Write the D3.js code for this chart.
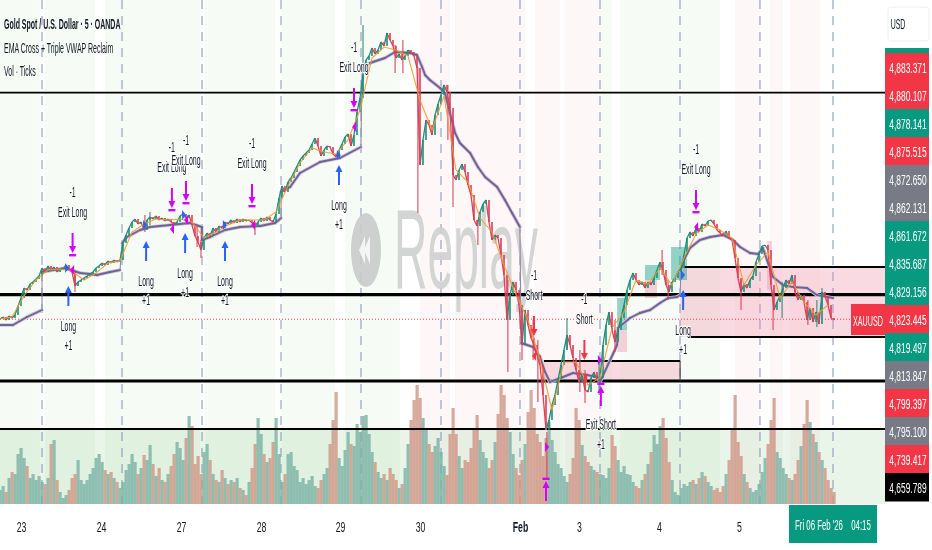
<!DOCTYPE html>
<html><head>
<meta charset="utf-8">
<title>XAUUSD replay</title>
<script src="https://d3js.org/d3.v7.min.js"></script>
<style>
  html, body { margin: 0; padding: 0; background: #fff; overflow: hidden; }
  svg { display: block; filter: blur(0.5px); }
  text { font-family: "Liberation Sans", Arial, sans-serif; }
</style>
</head>
<body>
<svg id="chart" width="932" height="550"></svg>
<script>

const closes = [
  4823.5,4824,4823.25,4824.25,4823.75,4824.5,
  4826.75,4828.75,4831.25,4830.75,4832.25,4832.75,4833.5,4834.25,
  4836.25,4835.25,4836.75,4835.75,4836.5,4835.25,4836,4836,4837,4835.75,4835.25,
  4831.75,4832.75,4833.25,4833.75,4834.25,4834.75,4835.25,4836.25,4836.75,
  4837.5,4837,4838,4837.5,4838.25,4837.75,4838.25,
  4842.5,4844.5,4846.25,4847.75,4848.5,4847.25,4847.75,
  4845.75,4848.25,4849,4848.5,4849.25,4848.25,4848.75,4848,
  4848.5,4847.75,4847.25,4847.75,4849.25,4849.75,4848.75,4849.5,
  4847,4844.25,4842.75,4840.75,4843.75,
  4845,4844.25,4846.25,4845.25,4846.75,4846.25,4847.75,4847.25,
  4848.25,4847.5,4848.5,4847.75,4848.5,4848,4848.25,4847.5,
  4846.75,4847.75,4848.75,4848,4849,4848.25,4847.75,4849.75,
  4853.75,4856.75,4855.25,4857.75,4858.75,4860.25,4861.75,4863.25,4864.25,4865,
  4865.75,4867.25,4868.75,4866.75,4864.25,4865.75,4866.75,4866.5,4864.75,4864,4865.75,4867.25,4869,4869.75,4866.75,4869.5,4875.25,4878.75,
  4884.5,4888.25,4889.25,4891.25,4889.75,4890.75,4892.75,4891.75,4895,4893.25,4891.75,4888.75,4889.75,4888.25,4889.25,4890.75,4890.25,4889.25,4886.25,
  4862,4868.25,4873.25,4872,4869.5,4874.5,4877.25,4879.5,4882,4880.25,4876.25,
  4859.5,4858.25,4860.75,4862.25,4860.25,4857,4854.5,4848.25,4846.75,4850.25,4852.25,4853.25,4847.75,4843.25,4844.5,4843.75,4839.5,
  4834.5,4823.25,4829.5,4832.75,4830.75,4827,4817,4825.75,4822,4818.75,4817,4814.5,4812,
  4804.5,4795.75,4798.25,4802,4804.5,4808.25,4812,4815.75,4819.5,4817,4813.75,4810.75,4807.75,4809.5,4805.75,4805.25,4808.75,4810.25,4808.25,4808.75,
  4817,4822,4825.25,4820.75,4817.75,4820.75,4823.75,4827,4830.75,4833.25,4835,4833.25,4832,4832.75,4831.25,4832.75,4832,4833.75,4835.75,4837.75,
  4835.75,4832,4830.25,4832.75,4833.75,4835.25,4836.25,4839.5,4843.75,4845.25,4844.25,4846.25,4845.25,4847.25,4846.75,4848,4848.25,4847.25,4845.75,4845,
  4844.25,4845.5,4843.75,4843.25,4838.75,4833.75,4830.25,4832.25,4831.25,4833.25,4834.25,4837.75,4839.75,4841.75,4842,4840.75,4832,4825.75,4827.75,4829.25,
  4831.25,4833.25,4832.25,4834.5,4830.25,4828.25,4829.5,4827.75,4823.25,4826.25,4822.75,4825.25,4822.25,4830.25,4829.25,4827,4823.75,4823.25
];

// long wicks that stick out of the close line
const wickSlots = [25,48.3,50,65.7,67,85,121,131.7,134.3,139.3,149.3,151,159.3,169.3,174,177.7,179.3,182.3,189,193.3,195,199.7,205,220.7,222.7,247,257.7,260.7,269.3,272.3,274];
const wickHighs = [4834.5,4849.5,4850.25,4847,4843.25,4847.75,4897,4892,4893.25,4886.5,4882,4873.25,4848.25,4833.25,4826.75,4823.25,4818.25,4795.25,4823.75,4815.75,4810.75,4813.25,4823.25,4840.75,4833.25,4833.25,4830.75,4832.75,4828.25,4828.25,4831.25];
const wickLows = [4830.25,4845.25,4847,4841.5,4838.75,4844.5,4880.75,4885,4885,4850,4868.25,4851.5,4842,4810.25,4813.25,4813.25,4802.75,4783.75,4815.75,4805.25,4802.5,4804.5,4815.25,4834.5,4828.25,4825.75,4820.75,4823.75,4822,4821.5,4825.75];

// orange fast EMA, one value every 4 slots
const emaFast = [4823.5,4824,4829.25,4833.25,4835.75,4836,4835.5,4833.25,4835,4837.5,4838,4845.25,4847.25,4848.5,4848.25,4848.5,4847.75,4843.75,4845.25,4847,4848.25,4848.25,4848.25,4850.25,4856.75,4862.5,4866.25,4865.25,4864.75,4868.25,4875.75,4888.75,4891.5,4890.75,4889.25,4878.25,4870.75,4879.25,4860.75,4857.75,4848.75,4845.25,4837,4829.5,4823.25,4813.25,4800.75,4812.75,4812.75,4807,4808.75,4821.25,4825.25,4833.25,4832.25,4836.25,4832,4838.75,4844.75,4847,4845.75,4843.75,4832,4837,4840.25,4828.75,4832.75,4827.75,4824.5,4827];

// session anchored VWAP, resets make it jump
const vwapSlots = [0,4.3,9,14,14,21.7,26.7,30,32.3,36.7,40,40.7,42.3,46.7,50,56.7,63.3,67.3,67.3,70,75,80,86.7,91.7,93.7,93.7,96.7,100,106.7,113.3,120.3,120.7,123.3,128.3,131.7,136.7,139,140.7,141.7,143.3,146.7,148.3,150,151.7,153.3,156.7,159.3,161.7,165.7,168.3,170.7,173.3,173.7,177.7,180,181.7,183.3,187.7,191,195.7,199,200,205.7,206,210,213.3,216.7,220,222.7,225.7,226.7,227,228.3,230,233.3,236.7,241,244.3,246.7,250,252.7,254.3,256,257.7,261,264.3,269,272.3,277.7];
const vwapPrices = [4822,4822,4824,4825.75,4835.25,4836.25,4835,4834.75,4834.5,4835.25,4835.75,4842.5,4844,4845.75,4846.5,4847,4847.5,4846.5,4843.25,4844,4845.75,4846.5,4846.75,4847.5,4848.75,4855.25,4856.5,4860,4862.75,4863.75,4866.5,4886.5,4887.5,4888.75,4890.25,4890,4889.5,4886.5,4884.5,4883.25,4881.25,4880,4875,4870,4867.5,4865,4861.5,4859,4856.5,4853.25,4850,4846.5,4817.5,4816.5,4814,4810.25,4807.75,4809,4810,4809.5,4809,4807.75,4817,4821.25,4823.75,4825,4825.75,4827.5,4828.75,4829,4829.5,4835.75,4838.75,4841.25,4843.25,4844,4844.5,4843.25,4841.5,4840,4839.75,4841.25,4837.5,4834,4832,4831.5,4831.25,4829.5,4828.75];

const volumes = [
  14,18,12,26,32,30,50,56,46,38, 26,30,24,28,22,20,26,60,64,24, 12,6,9,14,26,30,44,24,20,24,
  30,36,46,50,42,34,30,32,26,22, 16,22,34,40,50,42,30,36,49,44, 59,40,28,36,24,22,30,38,50,62,
  56,44,66,88,78,40,48,30,52,60, 44,30,24,22,34,26,20,24,22,26, 16,14,9,22,36,60,86,70,50,42,
  46,62,86,50,22,30,50,52,38,34, 22,26,20,24,28,18,16,24,30,36, 60,84,112,46,38,54,72,60,58,80,
  72,88,89,70,52,42,32,26,30,24, 36,30,24,16,20,36,60,84,104,119, 106,86,74,60,52,58,66,52,38,29,
  70,96,70,48,36,44,42,56,74,89, 64,52,46,36,44,62,90,119,109,86, 72,50,36,29,44,60,92,114,96,70,
  62,48,66,82,64,52,40,36,28,22, 30,46,96,84,59,48,42,38,34,32, 30,29,26,36,69,58,44,32,38,30,
  29,22,18,16,24,30,40,52,69,60, 78,86,66,42,24,12,9,16,20,18, 22,24,20,26,32,28,22,18,14,16,
  12,18,30,44,76,109,62,48,30,22, 16,12,14,20,32,46,60,84,106,52, 46,36,30,26,24,30,44,58,80,104,
  82,70,62,52,44,36,24,16,12
];

// x axis
const dayTickSlots = [7,33.67,60.33,87,113.33,140,173.33,193,219.67,246.33];
const dayTickLabels = ["23","24","27","28","29","30","Feb","3","4","5"];
const sessionSlots = [14,40.67,67.33,93.67,120.33,147,173.33,200,226.67,253.33,277.67];

// price column on the right
const priceLabels = ["4,883.371","4,880.107","4,878.141","4,875.515","4,872.650","4,862.131","4,861.672","4,835.687","4,829.156","4,823.445","4,819.497","4,813.847","4,799.397","4,795.100","4,739.417","4,659.789"];
const priceKinds = ["down","down","up","down","flat","flat","up","up","up","down","up","flat","down","flat","down","close"];

// horizontal levels and the last price
const thinLevels = [4880.107, 4796];
const thickLevels = [4829.6, 4808];
const lastPrice = 4823.445;

// shaded sessions in the background
const greenBandStarts = [0,15,35,68.3,94,115,200,206.7];
const greenBandEnds = [13.3,31.7,66.7,91.7,111.7,133.3,204,240];
const pinkBandStarts = [140,151.7,178.3,188.3,245,256.7,263.3];
const pinkBandEnds = [150,175,186.7,200,253.3,261,273.3];

// rectangles drawn on the chart
const boxStarts = [181.3,226.7];
const boxEnds = [226.7,295];
const boxTops = [4813,4836.5];
const boxBottoms = [4808,4819];
const tealStarts = [205.7,215,223.7];
const tealEnds = [209,220,229];
const tealTops = [4828.75,4837,4841.5];
const tealBottoms = [4820.75,4833.25,4833.25];
const redBoxStarts = [205.7,215,255.7];
const redBoxEnds = [209,219,257.3];
const redBoxTops = [4820.75,4833.25,4843];
const redBoxBottoms = [4815.25,4828.75,4830.75];

// strategy signals
const longSlots = [22.8,48.7,61.7,75,113,227.7];
const longPrices = [4826.75,4838,4840,4838,4857,4825.75];
const exitLongSlots = [24.2,57.3,62,84,118,232];
const exitLongPrices = [4845,4856.25,4858,4857.25,4881.25,4855.75];
const shortSlots = [178,194.8];
const shortPrices = [4824.25,4818.25];
const exitShortSlots = [182,200.3];
const exitShortPrices = [4778,4801.75];

// small triangles on the bars
const blueTriSlots = [21.7,47.7,60.7,74.3,112.3,227];
const blueTriPrices = [4836.25,4847,4849.5,4847,4864.5,4834.5];
const magentaLeftSlots = [24.7,58,62.7,85,118.7,232.7];
const magentaLeftPrices = [4835.75,4846,4848.25,4847,4871.5,4846.5];
const redLeftSlots = [178.7,195.7];
const redLeftPrices = [4814.25,4808.75];
const magentaRightSlots = [181.7,199.3];
const magentaRightPrices = [4791.5,4813.25];

const titleLines = ["Gold Spot / U.S. Dollar · 5 · OANDA","EMA Cross + Triple VWAP Reclaim","Vol · Ticks"];

// ---- 1. housekeeping ----
const svg = d3.select("svg#chart");
const plotRight = 885;
const plotBottom = 504;
const teal = "#089981", red = "#f23645", blue = "#2962ff", magenta = "#d500f9", ink = "#131722";

let x = d3.scaleLinear().domain([0, 295]).range([0, plotRight]);
let y = d3.scaleLinear().domain([4775, 4903]).range([513, 1]);
let yVol = d3.scaleLinear().domain([0, 130]).range([plotBottom, plotBottom - 130]);

// the picture is squeezed sideways, so every text gets a horizontal scale
function addText(g, str, px, py, size, opts) {
  opts = opts || {};
  let t = g.append("text")
    .attr("transform", "translate(" + px + "," + py + ") scale(" + (opts.sx || 0.5) + ",1)")
    .attr("text-anchor", opts.anchor || "middle")
    .attr("dominant-baseline", "central")
    .attr("font-size", size)
    .attr("font-weight", opts.weight || 400)
    .attr("fill", opts.fill || ink)
    .text(str);
  if (opts.halo) {
    t.attr("stroke", "#fff").attr("stroke-width", 2.5).attr("paint-order", "stroke");
  }
  return t;
}

// ---- 2. background ----
const bandLayer = svg.append("g");
bandLayer.selectAll(".green").data(d3.range(greenBandStarts.length)).join("rect")
  .attr("x", i => x(greenBandStarts[i])).attr("width", i => x(greenBandEnds[i]) - x(greenBandStarts[i]))
  .attr("y", 0).attr("height", plotBottom).attr("fill", "#4caf50").attr("opacity", 0.05);
bandLayer.selectAll(".pink").data(d3.range(pinkBandStarts.length)).join("rect")
  .attr("x", i => x(pinkBandStarts[i])).attr("width", i => x(pinkBandEnds[i]) - x(pinkBandStarts[i]))
  .attr("y", 0).attr("height", plotBottom).attr("fill", red).attr("opacity", 0.04);

// tint under the lowest level
bandLayer.append("rect").attr("x", 0).attr("width", plotRight)
  .attr("y", y(thinLevels[1])).attr("height", plotBottom - y(thinLevels[1]))
  .attr("fill", "#4caf50").attr("opacity", 0.13);

// session separators
svg.append("g").selectAll("line").data(sessionSlots).join("line")
  .attr("x1", d => x(d)).attr("x2", d => x(d)).attr("y1", 0).attr("y2", plotBottom)
  .attr("stroke", "#7f93b8").attr("stroke-width", 1).attr("stroke-dasharray", "9,7");

// ---- 3. replay watermark ----
const wm = svg.append("g").attr("opacity", 0.9);
wm.append("ellipse").attr("cx", 366).attr("cy", 250).attr("rx", 15).attr("ry", 37).attr("fill", "#c9cbcb");
wm.append("path").attr("d", "M359,250 L365,236 L365,264 Z M364,250 L370,236 L370,264 Z").attr("fill", "#f4f6f4");
wm.append("text").attr("x", 394).attr("y", 288).attr("font-size", 114)
  .attr("textLength", 144).attr("lengthAdjust", "spacingAndGlyphs")
  .attr("fill", "#cfd1d1").text("Replay");

// ---- 4. boxes ----
const boxLayer = svg.append("g");
boxLayer.selectAll(".box").data(d3.range(boxStarts.length)).join("rect")
  .attr("x", i => x(boxStarts[i])).attr("width", i => x(boxEnds[i]) - x(boxStarts[i]))
  .attr("y", i => y(boxTops[i])).attr("height", i => y(boxBottoms[i]) - y(boxTops[i]))
  .attr("fill", "#ec8fa6").attr("opacity", 0.33);
boxLayer.selectAll(".teal").data(d3.range(tealStarts.length)).join("rect")
  .attr("x", i => x(tealStarts[i])).attr("width", i => x(tealEnds[i]) - x(tealStarts[i]))
  .attr("y", i => y(tealTops[i])).attr("height", i => y(tealBottoms[i]) - y(tealTops[i]))
  .attr("fill", teal).attr("opacity", 0.42);
boxLayer.selectAll(".redbox").data(d3.range(redBoxStarts.length)).join("rect")
  .attr("x", i => x(redBoxStarts[i])).attr("width", i => x(redBoxEnds[i]) - x(redBoxStarts[i]))
  .attr("y", i => y(redBoxTops[i])).attr("height", i => y(redBoxBottoms[i]) - y(redBoxTops[i]))
  .attr("fill", "#ec8fa6").attr("opacity", 0.4);

// ---- 5. volume ----
svg.append("g").selectAll("rect").data(volumes).join("rect")
  .attr("x", (d, i) => x(i) - 1.5).attr("width", 3.2)
  .attr("y", d => yVol(d)).attr("height", d => yVol(0) - yVol(d))
  .attr("fill", (d, i) => (i > 0 && closes[i] < closes[i - 1]) ? "#cf9383" : "#79b0a2")
  .attr("opacity", 0.8);

// ---- 6. levels ----
const levelLayer = svg.append("g");
levelLayer.selectAll(".thin").data(thinLevels).join("line")
  .attr("x1", 0).attr("x2", plotRight).attr("y1", d => y(d)).attr("y2", d => y(d))
  .attr("stroke", "#000").attr("stroke-width", 1.8);
levelLayer.selectAll(".thick").data(thickLevels).join("line")
  .attr("x1", 0).attr("x2", plotRight).attr("y1", d => y(d)).attr("y2", d => y(d))
  .attr("stroke", "#000").attr("stroke-width", 3.2);
levelLayer.append("line").attr("x1", 0).attr("x2", plotRight).attr("y1", y(lastPrice)).attr("y2", y(lastPrice))
  .attr("stroke", red).attr("stroke-width", 1).attr("stroke-dasharray", "1,2");

// box outlines, only some of the sides are visible
levelLayer.append("line").attr("x1", x(boxStarts[0])).attr("x2", x(boxEnds[0])).attr("y1", y(boxTops[0])).attr("y2", y(boxTops[0])).attr("stroke", "#000").attr("stroke-width", 1.8);
levelLayer.append("line").attr("x1", x(boxEnds[0])).attr("x2", x(boxEnds[0])).attr("y1", y(boxTops[0])).attr("y2", y(boxBottoms[0])).attr("stroke", "#333").attr("stroke-width", 1);
levelLayer.append("line").attr("x1", x(boxStarts[1])).attr("x2", x(boxEnds[1])).attr("y1", y(boxTops[1])).attr("y2", y(boxTops[1])).attr("stroke", "#000").attr("stroke-width", 1.8);
levelLayer.append("line").attr("x1", x(boxStarts[1]) + 8).attr("x2", x(boxEnds[1])).attr("y1", y(boxBottoms[1])).attr("y2", y(boxBottoms[1])).attr("stroke", "#000").attr("stroke-width", 1.8);

// ---- 7. VWAP, closes, wicks, EMA ----
// a reset jump is a thin grey line, the rest is the thick purple one
const vwapSegs = d3.range(vwapSlots.length - 1);
const isJump = i => Math.abs(vwapSlots[i + 1] - vwapSlots[i]) <= 1 && Math.abs(vwapPrices[i + 1] - vwapPrices[i]) > 5;
const vwapLayer = svg.append("g").attr("stroke-linecap", "round");
[["#d3c4e0", 3.6], ["#6e6490", 1.9]].forEach(style => {
  vwapLayer.append("g").selectAll("line").data(vwapSegs.filter(i => !isJump(i))).join("line")
    .attr("x1", i => x(vwapSlots[i])).attr("x2", i => x(vwapSlots[i + 1]))
    .attr("y1", i => y(vwapPrices[i])).attr("y2", i => y(vwapPrices[i + 1]))
    .attr("stroke", style[0]).attr("stroke-width", style[1]);
});
vwapLayer.append("g").selectAll("line").data(vwapSegs.filter(isJump)).join("line")
  .attr("x1", i => x(vwapSlots[i])).attr("x2", i => x(vwapSlots[i + 1]))
  .attr("y1", i => y(vwapPrices[i])).attr("y2", i => y(vwapPrices[i + 1]))
  .attr("stroke", "#8d8aa0").attr("stroke-width", 1.1);

svg.append("g").selectAll("line").data(wickSlots).join("line")
  .attr("x1", d => x(d)).attr("x2", d => x(d))
  .attr("y1", (d, i) => y(wickHighs[i])).attr("y2", (d, i) => y(wickLows[i]))
  .attr("stroke-width", 1.1)
  .attr("stroke", d => {
    let k = Math.round(d);
    return closes[k] < closes[k - 1] ? "#d9455a" : "#2f8f7c";
  });

// zigzag between the closes plus a candle body at each slot
svg.append("g").selectAll("line").data(closes.slice(1)).join("line")
  .attr("x1", (d, i) => x(i)).attr("x2", (d, i) => x(i + 1))
  .attr("y1", (d, i) => y(closes[i])).attr("y2", d => y(d))
  .attr("stroke-width", 1.3)
  .attr("stroke", (d, i) => d < closes[i] ? "#d9405a" : "#1f8f7a");
svg.append("g").selectAll("line").data(closes.slice(1)).join("line")
  .attr("x1", (d, i) => x(i + 1)).attr("x2", (d, i) => x(i + 1))
  .attr("y1", (d, i) => y(closes[i])).attr("y2", d => y(d))
  .attr("stroke-width", 1.6)
  .attr("stroke", (d, i) => d < closes[i] ? "#d9405a" : "#1f8f7a");

const emaLine = d3.line().x((d, i) => x(i * 4)).y(d => y(d));
svg.append("path").attr("d", emaLine(emaFast)).attr("fill", "none").attr("stroke", "#f39a2d").attr("stroke-width", 1.1).attr("opacity", 0.9);

// ---- 8. signals ----
const sig = svg.append("g");

function arrow(px, tail, dir, color) {
  // dir = 1 points down, -1 points up. Arrow is always 20 pixels long
  let tip = tail + dir * 20;
  sig.append("line").attr("x1", px).attr("x2", px).attr("y1", tail).attr("y2", tip - dir * 5)
    .attr("stroke", color).attr("stroke-width", 2);
  sig.append("path")
    .attr("d", "M" + (px - 3.5) + "," + (tip - dir * 7) + " L" + px + "," + tip + " L" + (px + 3.5) + "," + (tip - dir * 7) + " Z")
    .attr("fill", color);
  return tip;
}

function tri(px, py, dir, color) {
  sig.append("path")
    .attr("d", "M" + px + "," + (py - 5) + " L" + (px + dir * 4) + "," + py + " L" + px + "," + (py + 5) + " Z")
    .attr("fill", color);
}

blueTriSlots.forEach((s, i) => tri(x(s), y(blueTriPrices[i]), 1, blue));
magentaLeftSlots.forEach((s, i) => tri(x(s), y(magentaLeftPrices[i]), -1, magenta));
redLeftSlots.forEach((s, i) => tri(x(s), y(redLeftPrices[i]), -1, red));
magentaRightSlots.forEach((s, i) => tri(x(s), y(magentaRightPrices[i]), 1, magenta));

longSlots.forEach((s, i) => {
  let tail = y(longPrices[i]);
  arrow(x(s), tail, -1, blue);
  addText(sig, "Long", x(s), tail + 20, 14, { halo: true });
  addText(sig, "+1", x(s), tail + 39, 14, { halo: true });
});
exitLongSlots.forEach((s, i) => {
  let tail = y(exitLongPrices[i]);
  let tip = arrow(x(s), tail, 1, magenta);
  sig.append("rect").attr("x", x(s) - 3.5).attr("y", tip + 1).attr("width", 7).attr("height", 2.4).attr("fill", magenta);
  addText(sig, "Exit Long", x(s), tail - 21, 14, { halo: true });
  addText(sig, "-1", x(s), tail - 41, 14, { halo: true });
});
shortSlots.forEach((s, i) => {
  let tail = y(shortPrices[i]);
  arrow(x(s), tail, 1, red);
  addText(sig, "Short", x(s), tail - 21, 14, { halo: true });
  addText(sig, "-1", x(s), tail - 41, 14, { halo: true });
});
exitShortSlots.forEach((s, i) => {
  let tail = y(exitShortPrices[i]);
  let tip = arrow(x(s), tail, -1, magenta);
  sig.append("rect").attr("x", x(s) - 3.5).attr("y", tip - 3.4).attr("width", 7).attr("height", 2.4).attr("fill", magenta);
  // labels below the pane are cut off
  if (tail + 18 < plotBottom) {
    addText(sig, "Exit Short", x(s), tail + 18, 14, { halo: true });
    addText(sig, "+1", x(s), tail + 38, 14, { halo: true });
  }
});

// ---- 9. title ----
const titleLayer = svg.append("g");
titleLines.forEach((line, i) => {
  addText(titleLayer, line, 4, 24 + i * 23.7, 14, { anchor: "start", weight: i == 0 ? 700 : 400, sx: 0.5 });
});

// ---- 10. time axis ----
const xAxis = d3.axisBottom(x).tickValues(dayTickSlots).tickSize(0)
  .tickFormat((d, i) => dayTickLabels[i]);
const xAxisG = svg.append("g").attr("transform", "translate(0,518)").call(xAxis);
xAxisG.select(".domain").remove();
xAxisG.selectAll("text")
  .attr("y", 9).attr("dy", 0)
  .attr("dominant-baseline", "central")
  .attr("font-size", 15).attr("fill", ink)
  .attr("transform", "scale(0.58,1)")
  .attr("font-family", "Liberation Sans")
  .attr("font-weight", (d, i) => dayTickLabels[i] == "Feb" ? 700 : 400);

svg.append("rect").attr("x", 789).attr("y", 505).attr("width", 88).attr("height", 38).attr("fill", teal);
addText(svg, "Fri 06 Feb '26", 819, 525, 15, { fill: "#fff", sx: 0.52 });
addText(svg, "04:15", 861, 525, 15, { fill: "#fff", sx: 0.52 });

// ---- 11. price column ----
const kindColor = { up: teal, down: red, flat: "#787b86", close: "#000" };
let rows = d3.scaleBand().domain(priceLabels).range([53, 501]);

const priceCol = svg.append("g");
priceCol.append("rect").attr("x", 885).attr("y", 48).attr("width", 44).attr("height", 6).attr("fill", teal);
priceCol.selectAll("rect.row").data(priceLabels).join("rect")
  .attr("class", "row")
  .attr("x", 885).attr("width", 44)
  .attr("y", d => rows(d)).attr("height", rows.bandwidth() + 0.5)
  .attr("fill", (d, i) => kindColor[priceKinds[i]]);
priceLabels.forEach(d => {
  addText(priceCol, d, 908, rows(d) + rows.bandwidth() / 2 + 1, 15, { fill: "#fff", sx: 0.56 });
});

// XAUUSD tag sits left of the column
priceCol.append("rect").attr("x", 851).attr("y", 304).attr("width", 34).attr("height", 31).attr("fill", red);
addText(priceCol, "XAUUSD", 868, 320, 15, { fill: "#fff", sx: 0.48 });

// USD button
priceCol.append("rect").attr("x", 888).attr("y", 7).attr("width", 41).attr("height", 34).attr("rx", 3)
  .attr("fill", "#fff").attr("stroke", "#eceef2");
addText(priceCol, "USD", 898, 24, 14, { sx: 0.5 });

</script>
</body></html>
